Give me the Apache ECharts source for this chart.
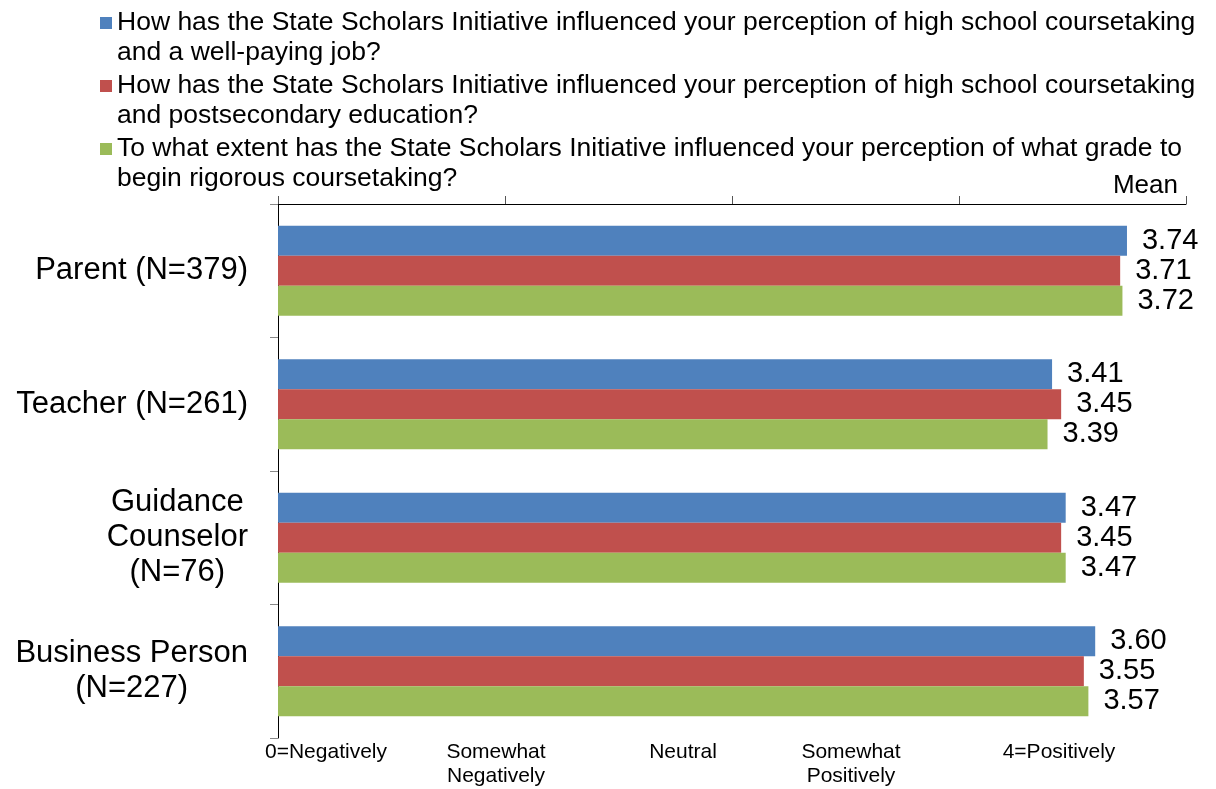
<!DOCTYPE html>
<html>
<head>
<meta charset="utf-8">
<script src="https://cdn.jsdelivr.net/npm/echarts@6/dist/echarts.min.js"></script>
<style>html,body{margin:0;padding:0;background:#fff;}#c{width:1216px;height:789px;}</style>
</head>
<body>
<div id="c"></div>
<script>
var categories = ['Parent (N=379)', 'Teacher (N=261)', 'Guidance\nCounselor\n(N=76)', 'Business Person\n(N=227)'];
var seriesNames = [
  'How has the State Scholars Initiative influenced your perception of high school coursetaking\nand a well-paying job?',
  'How has the State Scholars Initiative influenced your perception of high school coursetaking\nand postsecondary education?',
  'To what extent has the State Scholars Initiative influenced your perception of what grade to\nbegin rigorous coursetaking?'
];
var wellPayingJob = [3.74, 3.41, 3.47, 3.60];
var postsecondary = [3.71, 3.45, 3.45, 3.55];
var gradeToBegin = [3.72, 3.39, 3.47, 3.57];
var scaleLabels = ['0=Negatively', 'Somewhat\nNegatively', 'Neutral', 'Somewhat\nPositively', '4=Positively'];
var colors = ['#4F81BD', '#C0504D', '#9BBB59'];

var FONT = "'Liberation Sans', Arial, sans-serif";
var chart = echarts.init(document.getElementById('c'));

function barSeries(name, data, color) {
  return {
    name: name, type: 'bar', data: data, barWidth: 30, barGap: '0%',
    itemStyle: { color: color },
    label: { show: true, position: 'right', distance: 15, color: '#000', fontSize: 29, fontFamily: FONT,
      formatter: function (p) { return p.value.toFixed(2); } },
    emphasis: { disabled: true }
  };
}

var scaleCenters = [326, 496, 683, 851, 1059];
var graphics = scaleLabels.map(function (t, i) {
  return { type: 'text', x: scaleCenters[i], y: 740,
    style: { text: t, align: 'center', verticalAlign: 'top', fontSize: 21, lineHeight: 24, fontFamily: FONT, fill: '#000' } };
});

chart.setOption({
  animation: false,
  color: colors,
  textStyle: { fontFamily: FONT },
  legend: {
    orient: 'vertical', left: 100, top: -22, padding: 0, itemGap: -27,
    itemWidth: 12, itemHeight: 12, icon: 'rect', selectedMode: false,
    formatter: function (name) { return ' \n' + name; },
    textStyle: { fontSize: 26.5, lineHeight: 30, color: '#000', fontFamily: FONT },
    data: seriesNames
  },
  grid: { left: 278, right: 30, top: 204, bottom: 51, containLabel: false },
  xAxis: {
    type: 'value', position: 'top', min: 0, max: 4, interval: 1,
    name: 'Mean', nameLocation: 'end', nameGap: -8,
    nameTextStyle: { align: 'right', verticalAlign: 'bottom', fontSize: 26, color: '#000', fontFamily: FONT, padding: [0, 0, 5, 0] },
    axisLine: { show: true, lineStyle: { color: '#000', width: 1 } },
    axisTick: { show: true, inside: false, length: 8, lineStyle: { color: '#555' } },
    axisLabel: { show: false },
    splitLine: { show: false }
  },
  yAxis: {
    type: 'category', inverse: true, data: categories,
    axisLine: { show: true, lineStyle: { color: '#000', width: 1 } },
    axisTick: { show: true, length: 8, lineStyle: { color: '#888' } },
    axisLabel: {
      margin: 30, color: '#000', fontSize: 31, fontFamily: FONT, lineHeight: 35,
      formatter: function (v) { return v.split('\n').map(function (l) { return '{c|' + l + '}'; }).join('\n'); },
      rich: { c: { align: 'center', fontSize: 31, lineHeight: 35, fontFamily: FONT, color: '#000' } }
    }
  },
  series: [
    barSeries(seriesNames[0], wellPayingJob, colors[0]),
    barSeries(seriesNames[1], postsecondary, colors[1]),
    barSeries(seriesNames[2], gradeToBegin, colors[2])
  ],
  graphic: graphics
});
</script>
</body>
</html>
